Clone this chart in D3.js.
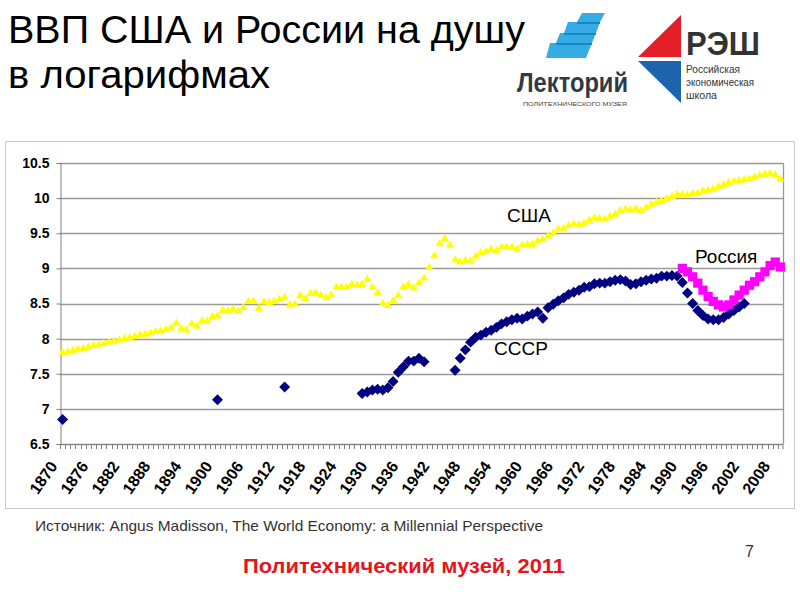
<!DOCTYPE html>
<html><head><meta charset="utf-8">
<script src="https://cdn.jsdelivr.net/npm/d3@7"></script>
<style>body{margin:0;background:#fff}svg{display:block}text{font-family:"Liberation Sans",Arial,sans-serif}</style>
</head><body><svg id="c" width="800" height="600"></svg>
<script>
// categories: one per year 1870..2009
const years = d3.range(1870, 2010);
const labelYears = [1870,1876,1882,1888,1894,1900,1906,1912,1918,1924,1930,1936,1942,1948,1954,1960,1966,1972,1978,1984,1990,1996,2002,2008];
const yTicks = [6.5,7,7.5,8,8.5,9,9.5,10,10.5];

// USA, ln GDP per capita, 1870..2009
const usaValues = [
7.80,7.81,7.83,7.85,7.86,7.88,7.90,7.91,7.93,7.95,
7.96,7.98,8.00,8.01,8.03,8.05,8.06,8.08,8.10,8.11,
8.13,8.15,8.22,8.14,8.12,8.21,8.18,8.25,8.25,8.31,
8.32,8.40,8.39,8.42,8.39,8.44,8.53,8.53,8.43,8.52,
8.51,8.53,8.56,8.58,8.48,8.49,8.61,8.57,8.64,8.65,
8.62,8.58,8.62,8.73,8.73,8.73,8.77,8.76,8.77,8.84,
8.73,8.65,8.50,8.47,8.54,8.61,8.73,8.77,8.72,8.79,
8.86,9.01,9.18,9.35,9.42,9.33,9.12,9.09,9.11,9.10,
9.17,9.22,9.24,9.27,9.25,9.30,9.30,9.30,9.27,9.33,
9.34,9.34,9.39,9.41,9.46,9.50,9.56,9.57,9.61,9.63,
9.62,9.64,9.68,9.72,9.71,9.70,9.74,9.77,9.82,9.84,
9.83,9.85,9.82,9.86,9.91,9.94,9.96,9.99,10.02,10.05,
10.05,10.04,10.06,10.07,10.10,10.11,10.13,10.16,10.19,10.22,
10.24,10.25,10.26,10.27,10.30,10.32,10.34,10.35,10.33,10.27];

// USSR / former USSR
const ussrYears = [1870,1900,1913,
1928,1929,1930,1931,1932,1933,1934,1935,1936,1937,1938,1939,1940,
1946,1947,1948,1949,1950,1951,1952,1953,1954,1955,1956,1957,1958,1959,
1960,1961,1962,1963,1964,1965,1966,1967,1968,1969,1970,1971,1972,1973,
1974,1975,1976,1977,1978,1979,1980,1981,1982,1983,1984,1985,1986,1987,
1988,1989,1990,1991,1992,1993,1994,1995,1996,1997,1998,1999,2000,2001,2002];
const ussrValues = [6.85,7.13,7.31,
7.22,7.24,7.27,7.28,7.27,7.30,7.39,7.52,7.60,7.68,7.68,7.72,7.67,
7.55,7.72,7.84,7.95,8.02,8.05,8.09,8.12,8.16,8.21,8.24,8.27,8.29,8.28,
8.32,8.35,8.38,8.29,8.44,8.49,8.54,8.58,8.63,8.66,8.69,8.73,8.74,8.78,
8.79,8.79,8.81,8.83,8.84,8.82,8.77,8.78,8.81,8.83,8.85,8.86,8.89,8.89,
8.90,8.89,8.80,8.65,8.50,8.40,8.33,8.28,8.27,8.27,8.30,8.35,8.40,8.45,8.50];

// Russia
const russiaYears = [1990,1991,1992,1993,1994,1995,1996,1997,1998,1999,2000,2001,2002,2003,2004,2005,2006,2007,2008,2009];
const russiaValues = [9.00,8.95,8.88,8.79,8.69,8.60,8.53,8.48,8.45,8.48,8.55,8.62,8.69,8.76,8.81,8.88,8.95,9.04,9.09,9.02];

const svg = d3.select('#c');
const x = d3.scaleBand().domain(years).range([60, 783]);
const y = d3.scaleLinear().domain([6.5, 10.5]).range([444, 163]);
const cx = yr => x(yr) + x.bandwidth() / 2;

// title
const t = svg.append('g').attr('fill', '#000').attr('font-size', 38);
t.append('text').attr('x', 8).attr('y', 43).attr('textLength', 517).attr('lengthAdjust', 'spacingAndGlyphs').text('ВВП США и России на душу');
t.append('text').attr('x', 8).attr('y', 88).attr('textLength', 262).attr('lengthAdjust', 'spacingAndGlyphs').text('в логарифмах');

// Лекторий logo
const lg = svg.append('g');
const blue = '#35ade4';
[[582,13,605,13,600,22,577,22],[568,22,600,22,596,33,564,33],[560,33,596,33,592,43,556,43],[550,43,592,43,586,58,546,58]]
  .forEach(p => lg.append('polygon').attr('points', [[p[0],p[1]],[p[2],p[3]],[p[4],p[5]],[p[6],p[7]]].join(' ')).attr('fill', blue));
[[577,22,600,22,600,24,577,24],[564,33,596,33,596,35,564,35],[556,43,592,43,592,45,556,45]]
  .forEach(p => lg.append('polygon').attr('points', [[p[0],p[1]],[p[2],p[3]],[p[4],p[5]],[p[6],p[7]]].join(' ')).attr('fill', '#1b86c6'));
lg.append('text').attr('x', 517).attr('y', 92).attr('font-size', 27).attr('font-weight', 'bold')
  .attr('fill', '#2f3a45').attr('textLength', 111).attr('lengthAdjust', 'spacingAndGlyphs').text('Лекторий');
lg.append('text').attr('x', 523).attr('y', 106).attr('font-size', 6).attr('fill', '#444')
  .attr('textLength', 104).attr('lengthAdjust', 'spacingAndGlyphs').text('ПОЛИТЕХНИЧЕСКОГО МУЗЕЯ');

// РЭШ logo
const rg = svg.append('g');
rg.append('polygon').attr('points', '681,15 681,57 638,57').attr('fill', '#e41e26');
rg.append('polygon').attr('points', '638,61 681,61 681,103').attr('fill', '#1d64ae');
rg.append('text').attr('x', 686).attr('y', 55).attr('font-size', 33).attr('font-weight', 'bold')
  .attr('fill', '#333').attr('textLength', 74).attr('lengthAdjust', 'spacingAndGlyphs').text('РЭШ');
[['Российская',73,54],['экономическая',86,68],['школа',99,31]].forEach(d =>
  rg.append('text').attr('x', 686).attr('y', d[1]).attr('font-size', 11).attr('fill', '#333')
    .attr('textLength', d[2]).attr('lengthAdjust', 'spacingAndGlyphs').text(d[0]));

// chart frame
svg.append('rect').attr('x', 5.5).attr('y', 141.5).attr('width', 789).attr('height', 367)
  .attr('fill', 'none').attr('stroke', '#c8c8c8');

// gridlines
svg.append('g').selectAll('line').data(yTicks).join('line')
  .attr('x1', 60).attr('x2', 783).attr('y1', d => Math.round(y(d)) + 0.5).attr('y2', d => Math.round(y(d)) + 0.5)
  .attr('stroke', '#9a9a9a').attr('stroke-width', 1.3);
svg.append('line').attr('x1', 783.5).attr('x2', 783.5).attr('y1', y(10.5)).attr('y2', y(6.5))
  .attr('stroke', '#9a9a9a').attr('stroke-width', 1.3);

// y axis
const ya = svg.append('g').attr('transform', 'translate(60.5,0)')
  .call(d3.axisLeft(y).tickValues(yTicks).tickSize(4).tickPadding(7).tickFormat(d => String(d)));
ya.select('.domain').attr('stroke', '#808080');
ya.selectAll('.tick line').attr('stroke', '#808080');
ya.selectAll('text').attr('font-size', 14).attr('font-weight', 'bold').attr('fill', '#000')
  .attr('font-family', '"Liberation Sans",Arial,sans-serif');

// x axis with boundary ticks
const xa = svg.append('g');
xa.append('line').attr('x1', 60).attr('x2', 783).attr('y1', 444.5).attr('y2', 444.5).attr('stroke', '#808080');
xa.selectAll('line.tk').data(years.concat([null])).join('line').attr('class', 'tk')
  .attr('x1', d => d === null ? 783 : Math.round(x(d)) + 0.5).attr('x2', d => d === null ? 783 : Math.round(x(d)) + 0.5)
  .attr('y1', 444).attr('y2', 449).attr('stroke', '#808080');
xa.selectAll('text').data(labelYears).join('text')
  .attr('transform', d => `translate(${cx(d) - 9},${463}) rotate(-55)`)
  .attr('text-anchor', 'end').attr('dy', '0.35em').attr('font-size', 16).attr('font-weight', 'bold')
  .text(d => d);

// series
const usaSym = d3.symbol().type(d3.symbolTriangle).size(30);
const diamond = { draw(ctx, size) { const r = Math.sqrt(size / 2); ctx.moveTo(0, -r); ctx.lineTo(r, 0); ctx.lineTo(0, r); ctx.lineTo(-r, 0); ctx.closePath(); } };
const ussrSym = d3.symbol().type(diamond).size(60);
const rusSym = d3.symbol().type(d3.symbolSquare).size(85);

svg.append('g').selectAll('path').data(years.map((yr, i) => [yr, usaValues[i]])).join('path')
  .attr('d', usaSym).attr('transform', d => `translate(${cx(d[0])},${y(d[1])})`).attr('fill', '#ffff00');
svg.append('g').selectAll('path').data(ussrYears.map((yr, i) => [yr, ussrValues[i]])).join('path')
  .attr('d', ussrSym).attr('transform', d => `translate(${cx(d[0])},${y(d[1])})`).attr('fill', '#000080');
svg.append('g').selectAll('path').data(russiaYears.map((yr, i) => [yr, russiaValues[i]])).join('path')
  .attr('d', rusSym).attr('transform', d => `translate(${cx(d[0])},${y(d[1])})`).attr('fill', '#ff00ff');

// series labels
const sl = svg.append('g').attr('font-size', 19).attr('fill', '#000');
sl.append('text').attr('x', 507).attr('y', 222).text('США');
sl.append('text').attr('x', 494).attr('y', 355).text('СССР');
sl.append('text').attr('x', 695).attr('y', 263).text('Россия');

// footer
svg.append('text').attr('x', 35).attr('y', 531).attr('font-size', 15).attr('fill', '#333')
  .attr('textLength', 508).attr('lengthAdjust', 'spacingAndGlyphs')
  .text('Источник: Angus Madisson, The World Economy: a Millennial Perspective');
svg.append('text').attr('x', 243).attr('y', 573).attr('font-size', 21).attr('font-weight', 'bold').attr('fill', '#e8141b')
  .attr('textLength', 322).attr('lengthAdjust', 'spacingAndGlyphs').text('Политехнический музей, 2011');
svg.append('text').attr('x', 745).attr('y', 557).attr('font-size', 16).attr('fill', '#333').text('7');
</script></body></html>
